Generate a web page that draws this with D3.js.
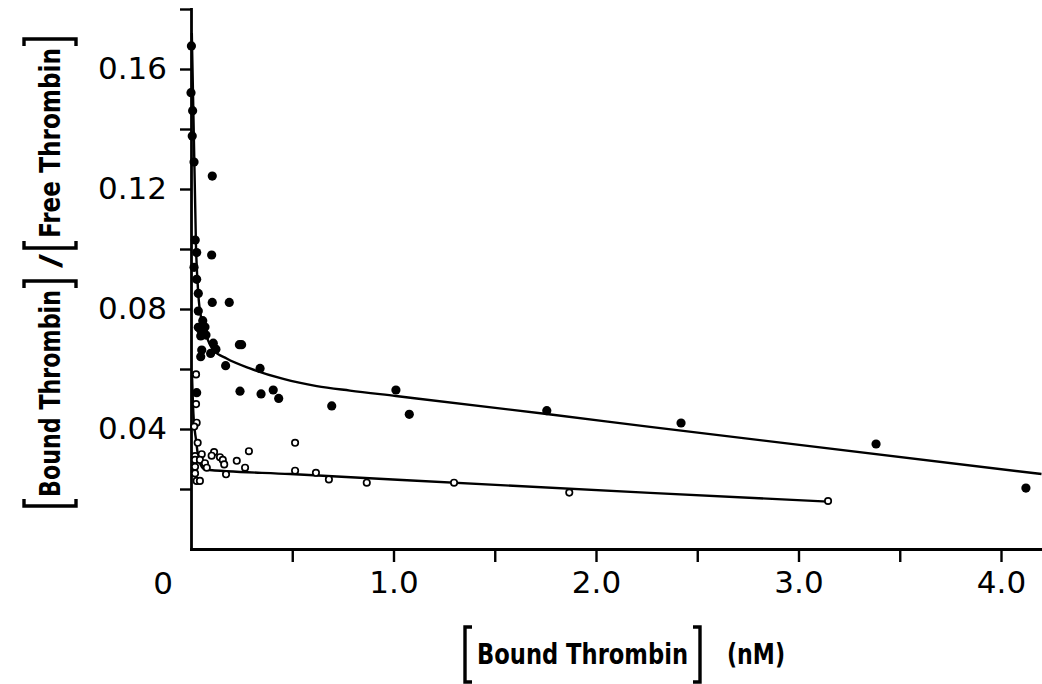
<!DOCTYPE html>
<html>
<head>
<meta charset="utf-8">
<script src="https://cdn.jsdelivr.net/npm/d3@7"></script>
<style>
  body { margin: 0; background: #fff; }
  svg { display: block; }
</style>
</head>
<body>
<svg id="chart" width="1042" height="684"></svg>
<script>
// filled circles
var boundFilled = [0.002, 0.000, 0.008, 0.006, 0.015, 0.105, 0.021, 0.028, 0.102, 0.015, 0.028,
    0.036, 0.105, 0.189, 0.036, 0.058, 0.036, 0.048, 0.061, 0.048, 0.069, 0.074, 0.110, 0.123,
    0.239, 0.250, 0.053, 0.048, 0.097, 0.171, 0.341, 0.028, 0.242, 0.346, 0.406, 0.433, 0.695,
    1.012, 1.078, 1.757, 2.420, 3.383, 4.123];
var ratioFilled = [0.1677, 0.1521, 0.1461, 0.1377, 0.1290, 0.1243, 0.1030, 0.0988, 0.0980, 0.0939,
    0.0899, 0.0852, 0.0822, 0.0822, 0.0793, 0.0761, 0.0739, 0.0730, 0.0724, 0.0710, 0.0740, 0.0713,
    0.0686, 0.0666, 0.0681, 0.0681, 0.0663, 0.0641, 0.0652, 0.0611, 0.0602, 0.0521, 0.0526, 0.0517,
    0.0530, 0.0502, 0.0477, 0.0530, 0.0449, 0.0461, 0.0420, 0.0350, 0.0203];

// open circles
var boundOpen = [0.025, 0.025, 0.028, 0.016, 0.033, 0.514, 0.020, 0.053, 0.114, 0.102, 0.286,
    0.020, 0.044, 0.069, 0.143, 0.157, 0.164, 0.226, 0.020, 0.078, 0.267, 0.173, 0.514, 0.617,
    0.681, 0.020, 0.028, 0.044, 0.868, 1.299, 1.868, 3.146];
var ratioOpen = [0.0582, 0.0483, 0.0421, 0.0408, 0.0354, 0.0354, 0.0310, 0.0316, 0.0323, 0.0311,
    0.0326, 0.0297, 0.0297, 0.0286, 0.0306, 0.0297, 0.0282, 0.0294, 0.0274, 0.0271, 0.0271, 0.0249,
    0.0261, 0.0254, 0.0232, 0.0252, 0.0227, 0.0227, 0.0221, 0.0221, 0.0188, 0.0160];

// fitted curves
var upperFitX = [0.004, 0.025, 0.036, 0.052, 0.077, 0.110, 0.176, 0.291, 0.456, 0.621, 0.785,
    1.012, 1.757, 2.267, 4.200];
var upperFitY = [0.172, 0.0997, 0.0850, 0.0763, 0.0708, 0.0663, 0.0635, 0.0602, 0.0567, 0.0543,
    0.0528, 0.0510, 0.0450, 0.0407, 0.0250];
var lowerFitX = [0.005, 0.012, 0.025, 0.040, 0.069, 0.490, 2.267, 3.146];
var lowerFitY = [0.058, 0.045, 0.0363, 0.0293, 0.0265, 0.0250, 0.0187, 0.0158];

// ticks
var xTicks = [0.5, 1.0, 1.5, 2.0, 2.5, 3.0, 3.5, 4.0];
var xLabelValues = [1.0, 2.0, 3.0, 4.0];
var xLabels = ['1.0', '2.0', '3.0', '4.0'];
var yTicks = [0.02, 0.04, 0.06, 0.08, 0.10, 0.12, 0.14, 0.16, 0.18];
var yLabelValues = [0.04, 0.08, 0.12, 0.16];
var yLabels = ['0.04', '0.08', '0.12', '0.16'];

var svg = d3.select('#chart');
var x = d3.scaleLinear().domain([0, 4.2]).range([191, 1041.5]);
var y = d3.scaleLinear().domain([0, 0.18]).range([549, 9]);
var tickFont = '"DejaVu Sans", sans-serif';
var titleFont = '"Liberation Sans Narrow", "DejaVu Sans Condensed", "Roboto", sans-serif';

function labelFor(values, labels) {
    return function(d) {
        for (var i = 0; i < values.length; i++) {
            if (Math.abs(values[i] - d) < 1e-9) return labels[i];
        }
        return '';
    };
}

// fit lines
var line = d3.line()
    .x(function(d) { return x(d[0]); })
    .y(function(d) { return y(d[1]); })
    .curve(d3.curveMonotoneX);

svg.append('path')
    .datum(d3.zip(upperFitX, upperFitY))
    .attr('d', line)
    .attr('fill', 'none').attr('stroke', '#000').attr('stroke-width', 2.4);
svg.append('path')
    .datum(d3.zip(lowerFitX, lowerFitY))
    .attr('d', line)
    .attr('fill', 'none').attr('stroke', '#000').attr('stroke-width', 2.4);

// axes
var yAxis = d3.axisLeft(y)
    .tickValues(yTicks)
    .tickSize(11).tickSizeOuter(0).tickPadding(13)
    .tickFormat(labelFor(yLabelValues, yLabels));
var gy = svg.append('g').attr('transform', 'translate(' + x(0) + ',0)').call(yAxis);

var xAxis = d3.axisBottom(x)
    .tickValues(xTicks)
    .tickSize(13).tickSizeOuter(0).tickPadding(9)
    .tickFormat(labelFor(xLabelValues, xLabels));
var gx = svg.append('g').attr('transform', 'translate(0,' + y(0) + ')').call(xAxis);

[gx, gy].forEach(function(g) {
    g.select('.domain').attr('stroke-width', 2.8).attr('stroke-linecap', 'square');
    g.selectAll('.tick line').attr('stroke-width', 2.4);
    g.selectAll('.tick text')
        .style('font-family', tickFont).style('font-size', '31px').attr('fill', '#000');
});

// shared origin label
svg.append('text')
    .attr('x', x(0) - 28).attr('y', y(0) + 45)
    .attr('text-anchor', 'middle')
    .style('font-family', tickFont).style('font-size', '31px')
    .text('0');

// points
svg.append('g').selectAll('circle')
    .data(d3.zip(boundOpen, ratioOpen)).enter()
    .append('circle')
    .attr('cx', function(d) { return x(d[0]); })
    .attr('cy', function(d) { return y(d[1]); })
    .attr('r', 3.2)
    .attr('fill', '#fff').attr('stroke', '#000').attr('stroke-width', 1.7);

svg.append('g').selectAll('circle')
    .data(d3.zip(boundFilled, ratioFilled)).enter()
    .append('circle')
    .attr('cx', function(d) { return x(d[0]); })
    .attr('cy', function(d) { return y(d[1]); })
    .attr('r', 4.6)
    .attr('fill', '#000');

// square brackets as drawn in the figure
function bracket(g, pos, open, lo, hi) {
    var s = open ? 7 : -7;
    g.append('path')
        .attr('d', 'M' + (pos + s) + ',' + lo + 'H' + pos + 'V' + hi + 'H' + (pos + s))
        .attr('fill', 'none').attr('stroke', '#000').attr('stroke-width', 3.4);
}

function title(g, txt, x0, len) {
    g.append('text')
        .attr('x', x0).attr('y', 0)
        .attr('textLength', len).attr('lengthAdjust', 'spacingAndGlyphs')
        .style('font-family', titleFont).style('font-weight', 'bold').style('font-size', '28px')
        .text(txt);
}

// x title
var xt = svg.append('g').attr('transform', 'translate(0,664)');
bracket(xt, 465, true, -37, 18);
title(xt, 'Bound Thrombin', 477, 211);
bracket(xt, 700, false, -37, 18);
title(xt, '(nM)', 727, 58);

// y title (rotated)
var yt = svg.append('g').attr('transform', 'translate(60,0) rotate(-90)');
bracket(yt, -506, true, -36, 16);
title(yt, 'Bound Thrombin', -497, 207);
bracket(yt, -281, false, -36, 16);
title(yt, '/', -268, 14);
bracket(yt, -248, true, -36, 16);
title(yt, 'Free Thrombin', -238, 190);
bracket(yt, -39, false, -36, 16);
</script>
</body>
</html>
